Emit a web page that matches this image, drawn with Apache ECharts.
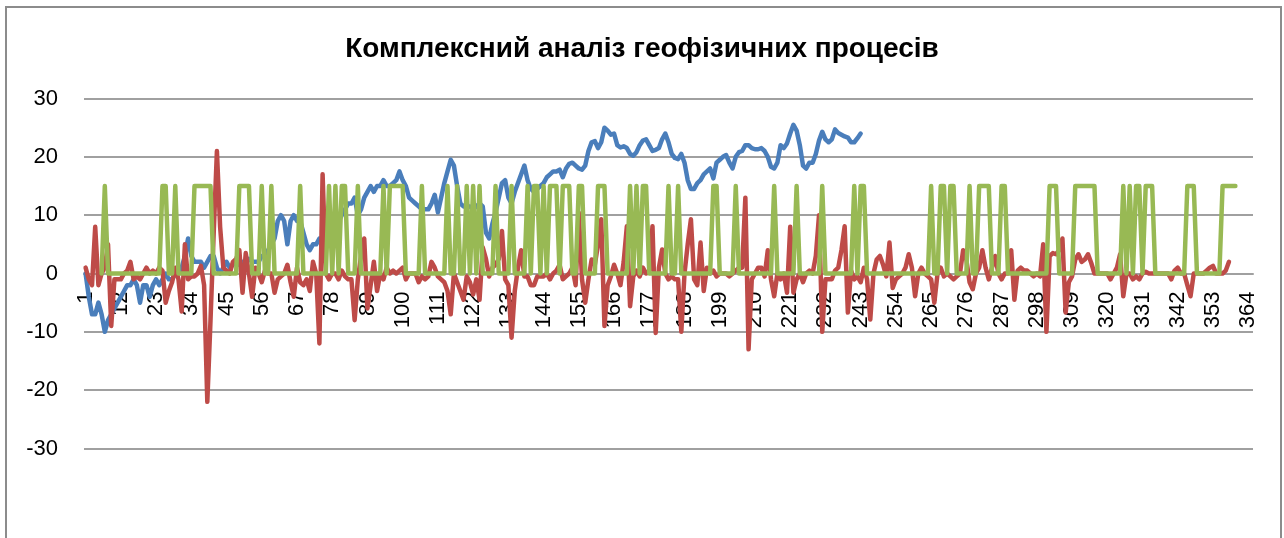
<!DOCTYPE html>
<html>
<head>
<meta charset="utf-8">
<script src="https://cdn.jsdelivr.net/npm/echarts/dist/echarts.min.js"></script>
<style>
  html, body { margin: 0; padding: 0; background: #fff; }
  #main { width: 1284px; height: 538px; }
</style>
</head>
<body>
<div id="main"></div>
<script>
// заголовок та осі
const chartTitle = 'Комплексний аналіз геофізичних процесів';
const dayCount = 365;
const days = Array.from({ length: dayCount }, (_, k) => String(k + 1));
const yTicks = [-30, -20, -10, 0, 10, 20, 30];

// синій ряд (дні 1..243)
const blueSeries = [
  0, -4, -7, -7, -5, -7, -10, -8, -7, -6,
  -5, -4, -3, -2, -2, -1, -2, -5, -2, -2,
  -4, -2, -1, -2, -1, 0, -1, -1, 0, 0,
  1, 3, 6, 3, 2, 2, 2, 1, 2, 3,
  3, 1, 0, 1, 2, 1, 1.5, 2, 1.5, 2,
  2, 2.5, 2, 2, 2, 3, 3, 4, 5, 6,
  9, 10, 9, 5, 9, 10, 9, 9, 7, 5,
  4, 5, 5, 6, 6, 7, 7, 7, 8, 9,
  10, 11, 12, 12, 13, 10, 11, 13, 14, 15,
  14, 15, 15, 16, 15, 15, 15.5, 16, 17.5, 16,
  15, 13, 12.5, 12, 11.5, 11, 11, 11, 12, 13.5,
  10.5, 13, 15.5, 17.5, 19.5, 18.5, 15, 12, 11.5, 11.5,
  11.5, 11, 11.5, 12, 11.5, 7, 6, 8.5, 10.5, 13,
  15.5, 16, 13, 12, 14, 15.5, 17, 18.5, 16, 14.5,
  14, 14.5, 15, 15.5, 16.5, 17, 17.5, 17.5, 17.8, 16.5,
  18, 18.8, 19, 18.5, 18, 17.8, 18.5, 21, 22.5, 22.7,
  21.5, 22.5, 25, 24.5, 23.8, 24, 22, 21.6, 21.8, 21.5,
  20.5, 20.2, 20.8, 22, 22.8, 23, 22, 21, 21.2, 21.5,
  23, 24, 22.5, 20.5, 19.8, 19.6, 20.5, 19, 16, 14.5,
  14.5, 15.5, 16, 17, 17.5, 18, 16.3, 19, 19.5, 20,
  20.3, 19, 18, 20, 20.8, 21, 22, 22, 21.5, 21.3,
  21.3, 21.5, 21, 20, 18.3, 18, 19, 22, 21.5, 22.3,
  24, 25.5, 24.5, 22, 18.5, 18, 19, 19, 20.5, 22.8,
  24.3, 23, 22.5, 23, 24.7, 24.1, 23.8, 23.5, 23.3, 22.5,
  22.5, 23.2, 24
];

// червоний ряд (дні 1..358)
const redSeries = [
  1, -1, -2, 8, -2, 0, 1, 5, -9, -1,
  -1, -1, 0, 0.5, 2, -1, -0.5, -1, 0, 1,
  0, 0.5, 0, 1, 0.5, -5, -3, -1.5, 1, -1,
  -6.5, 5, -1, -0.5, -0.5, 0, 1.3, -2, -22, -8,
  7, 21, 8, 1, 0.5, 0, 2, 2.5, 4, -3.3,
  3.5, 0, -4, 1, 0, -1.5, 0.5, 0, 0, -3.3,
  -1, -0.5, 0, 1.5, -1.5, -4, 1, -1.5, -2, -1,
  -3, 2, 0, -12, 17, 0, -1, 0, 0, -1,
  0.5, -0.5, -1, -1, -8, -1, 3, 6, -6, -2,
  2, -3, 0, -1, 1, 0, 0.5, 0, 0.5, 1,
  -1, 0, 0, 0, -1.5, -0.5, -1, -0.5, 2, 1,
  -0.5, -1, -1.5, -3, -7, 0, -1.5, -3, -4.5, -0.5,
  -1.5, -3.6, -1, -4.5, 4.5, 2.5, -0.5, 1, 1.5, 2.5,
  7.3, -1, -2, -11, -3, 1, 4, -0.5, -0.5, -2,
  -2, -0.5, -0.5, -0.5, 0, -1, 0, 0.5, 1.5, -1,
  -0.5, 0, 1, -2, 10.4, -1, -5, -1, 2.4, 1.5,
  5, 9.3, -9, -2, -0.5, 1.5, 0, -2, 2, 8.1,
  -5.6, -0.5, 0.5, -0.5, 1, 0, 0.5, 8.1, -10.2, 1,
  4.1, 0, -1, -0.5, -1, -1, -10, 0, 5, 9.3,
  -1, -2, 5.3, -3, 1, 0, 0.5, -0.5, 0, 0,
  0, -0.5, 0, 0.5, 1, 1, 13, -13, -1, 0,
  1, 1, -0.5, 4, -1, -3.9, 0, -1, 0, -3.3,
  8, -3.3, -1, 0, -1.5, 0, 0.5, 0, 3, 10,
  -10, -1, -1, -1, 0.5, 1, 4, 8.1, -6.7, 0.5,
  -1, -0.5, -1.5, 1, -1, -7.9, 0, 2.4, 3, 1.5,
  -0.5, 5.3, -2.5, -1, -0.5, 0, 1, 3.3, 1, -3.9,
  0, 1, 0, -0.5, -1, -5, 0, 1, -0.5, 0,
  -0.5, -1, -0.5, 0, 4, 2.4, -1.5, -2.7, 0, 1,
  4, 1, -1, 1, 3, 0, -1, 0, 0, 4,
  -4.5, 0.5, 1, 0.5, 0.5, 0, -0.5, 0, -0.5, 5,
  -10, 3, 3.5, 3.3, 4, 6, -6.7, -1.5, -0.5, 2.4,
  3.3, 2, 2.4, 3.3, 1.8, 0, 0, 0, 0, 0,
  -1, 0, 1, 3.3, -3.9, 0, 0, -1, -0.5, -1,
  0, 0.3, 0, 0, 0, 0, 0, 0, 0, -1,
  0.5, 1, 0, 0, -2, -3.9, 0, 0, 0, 0,
  0.5, 1, 1.3, 0, 0, 0, 0.5, 2
];

// зелений ряд (дні 1..360, перші п'ять порожні)
const greenSeries = [
  null, null, null, null, null, 0, 15, 0, 0, 0,
  0, 0, 0, 0, 0, 0, 0, 0, 0, 0,
  0, 0, 0, 0, 15, 15, 0, 0, 15, 0,
  0, 0, 0, 0, 15, 15, 15, 15, 15, 15,
  0, 0, 0, 0, 0, 0, 0, 0, 15, 15,
  15, 15, 0, 0, 0, 15, 0, 0, 15, 0,
  0, 0, 0, 0, 0, 0, 0, 15, 0, 0,
  0, 0, 0, 0, 0, 0, 15, 0, 15, 0,
  15, 15, 0, 0, 0, 15, 0, 0, 0, 0,
  0, 0, 0, 15, 0, 15, 15, 15, 15, 15,
  0, 0, 0, 0, 0, 15, 0, 0, 0, 0,
  0, 0, 0, 15, 0, 0, 15, 0, 0, 15,
  0, 15, 0, 15, 0, 0, 0, 0, 15, 0,
  0, 0, 0, 15, 0, 0, 0, 0, 15, 0,
  15, 15, 0, 15, 0, 15, 15, 15, 0, 15,
  15, 15, 0, 0, 15, 15, 0, 0, 0, 0,
  15, 15, 15, 0, 0, 0, 0, 0, 0, 0,
  15, 0, 15, 0, 15, 15, 0, 0, 0, 0,
  0, 0, 15, 0, 0, 15, 0, 0, 0, 0,
  0, 0, 0, 0, 0, 0, 15, 15, 0, 0,
  0, 0, 0, 15, 0, 0, 0, 0, 0, 0,
  0, 0, 0, 0, 0, 15, 0, 0, 0, 0,
  0, 0, 15, 0, 0, 0, 0, 0, 0, 0,
  15, 0, 0, 0, 0, 0, 0, 0, 0, 0,
  15, 0, 15, 15, 0, 0, 0, 0, 0, 0,
  0, 0, 0, 0, 0, 0, 0, 0, 0, 0,
  0, 0, 0, 0, 15, 0, 0, 15, 15, 0,
  15, 15, 0, 0, 0, 0, 15, 0, 0, 15,
  15, 15, 15, 0, 0, 0, 15, 15, 0, 0,
  0, 0, 0, 0, 0, 0, 0, 0, 0, 0,
  0, 15, 15, 15, 0, 0, 0, 0, 0, 15,
  15, 15, 15, 15, 15, 15, 0, 0, 0, 0,
  0, 0, 0, 0, 15, 0, 15, 0, 15, 15,
  0, 15, 15, 15, 0, 0, 0, 0, 0, 0,
  0, 0, 0, 0, 15, 15, 15, 0, 0, 0,
  0, 0, 0, 0, 0, 15, 15, 15, 15, 15
];

const font = "'Liberation Sans', Arial, sans-serif";
const gridColor = '#a0a0a0';

// розміри області побудови
const gridTop = 98.5;
const gridBottom = 89.5;
const plotHeight = 538 - gridTop - gridBottom;
// вісь категорій проходить через нуль (середина шкали -30..30)
const zeroOffset = -plotHeight * (0 - yTicks[0]) / (yTicks[yTicks.length - 1] - yTicks[0]);

function lineSeries(name, color, data) {
  return {
    name: name,
    type: 'line',
    data: data,
    showSymbol: false,
    symbol: 'none',
    connectNulls: false,
    lineStyle: { color: color, width: 4.5, cap: 'round', join: 'round' },
    itemStyle: { color: color },
    emphasis: { disabled: true },
    animation: false
  };
}

let chart = echarts.init(document.getElementById('main'), null, { renderer: 'canvas' });

chart.setOption({
  animation: false,
  backgroundColor: '#ffffff',
  title: {
    text: chartTitle,
    left: 'center',
    top: 30,
    textStyle: { fontFamily: font, fontWeight: 'bold', fontSize: 28, color: '#000' }
  },
  graphic: [{
    type: 'rect',
    silent: true,
    shape: { x: 6, y: 7, width: 1275, height: 600 },
    style: { fill: 'none', stroke: '#8c8c8c', lineWidth: 2 }
  }],
  grid: {
    left: 84,
    right: 31,
    top: gridTop,
    bottom: gridBottom,
    outerBoundsMode: 'none'
  },
  xAxis: {
    type: 'category',
    data: days,
    boundaryGap: true,
    position: 'bottom',
    offset: zeroOffset,
    axisLine: { onZero: false, lineStyle: { color: gridColor, width: 2 } },
    axisTick: { show: false },
    axisLabel: {
      interval: 10,
      rotate: 90,
      margin: 18,
      fontFamily: font,
      fontSize: 22,
      color: '#000'
    },
    splitLine: { show: false }
  },
  yAxis: {
    type: 'value',
    min: yTicks[0],
    max: yTicks[yTicks.length - 1],
    interval: 10,
    axisLine: { show: false },
    axisTick: { show: false },
    axisLabel: { margin: 26, fontFamily: font, fontSize: 22, color: '#000' },
    splitLine: { show: true, lineStyle: { color: gridColor, width: 2 } }
  },
  series: [
    lineSeries('Ряд1', '#4a7ebb', blueSeries),
    lineSeries('Ряд2', '#be4b48', redSeries),
    lineSeries('Ряд3', '#98b954', greenSeries)
  ]
});
</script>
</body>
</html>
